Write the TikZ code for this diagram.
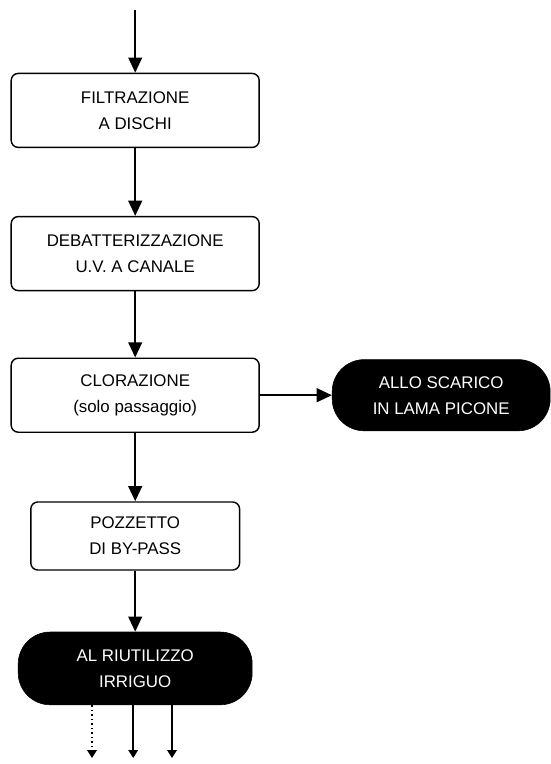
\documentclass[tikz,border=0pt]{standalone}
\usepackage{fontspec}
\setmainfont{Liberation Sans}
\usetikzlibrary{arrows.meta,positioning,calc}

\begin{document}
\begin{tikzpicture}
[font=\fontsize{12}{18.5}\selectfont,
step box/.style={draw,line width=1pt,rounded corners=5pt,align=center,minimum width=6.2cm,minimum height=1.85cm},
exit box/.style={fill=black,draw=black,text=white,rounded corners=0.8cm,align=center,minimum height=1.78cm},
edge/.style={black,line width=1.7pt,-{Triangle[length=3.8mm,width=3.4mm]}},
outlet/.style={black,line width=1.2pt,-{Triangle[length=2mm,width=2.4mm]}}]
%%%%%%%%%%

\def \xc {3.38}
\def \yflow {-9.88}

\useasboundingbox (0,0) rectangle (13.775,-19.1);

\coordinate (in) at (\xc,-0.25);
\node[step box] (filtr) at (\xc,-2.76) {FILTRAZIONE\\A DISCHI};
\node[step box] (uv) at (\xc,-6.34) {DEBATTERIZZAZIONE\\U.V. A CANALE};
\node[step box] (clor) at (\xc,\yflow) {CLORAZIONE\\(solo passaggio)};
\node[step box,minimum width=5.22cm,minimum height=1.7cm] (bypass) at (\xc,-13.4) {POZZETTO\\DI BY-PASS};
\node[exit box,minimum width=5.85cm,minimum height=1.82cm] (irriguo) at (\xc,-16.71) {AL RIUTILIZZO\\IRRIGUO};
\node[exit box,minimum width=5.45cm] (scarico) at (11.03,\yflow) {ALLO SCARICO\\IN LAMA PICONE};

\draw[edge] (in) -- (filtr);
\draw[edge] (filtr) -- (uv);
\draw[edge] (uv) -- (clor);
\draw[edge] (clor) -- (scarico);
\draw[edge] (clor) -- (bypass);
\draw[edge] (bypass) -- (irriguo);

% uscite irrigue
\foreach \x/\n in {2.3/a,3.33/b,4.3/c}
    \coordinate (out\n) at (\x,-18.95);
\draw[outlet,dotted] (irriguo.south -| outa) -- (outa);
\draw[outlet] (irriguo.south -| outb) -- (outb);
\draw[outlet] (irriguo.south -| outc) -- (outc);
\end{tikzpicture}
\end{document}
